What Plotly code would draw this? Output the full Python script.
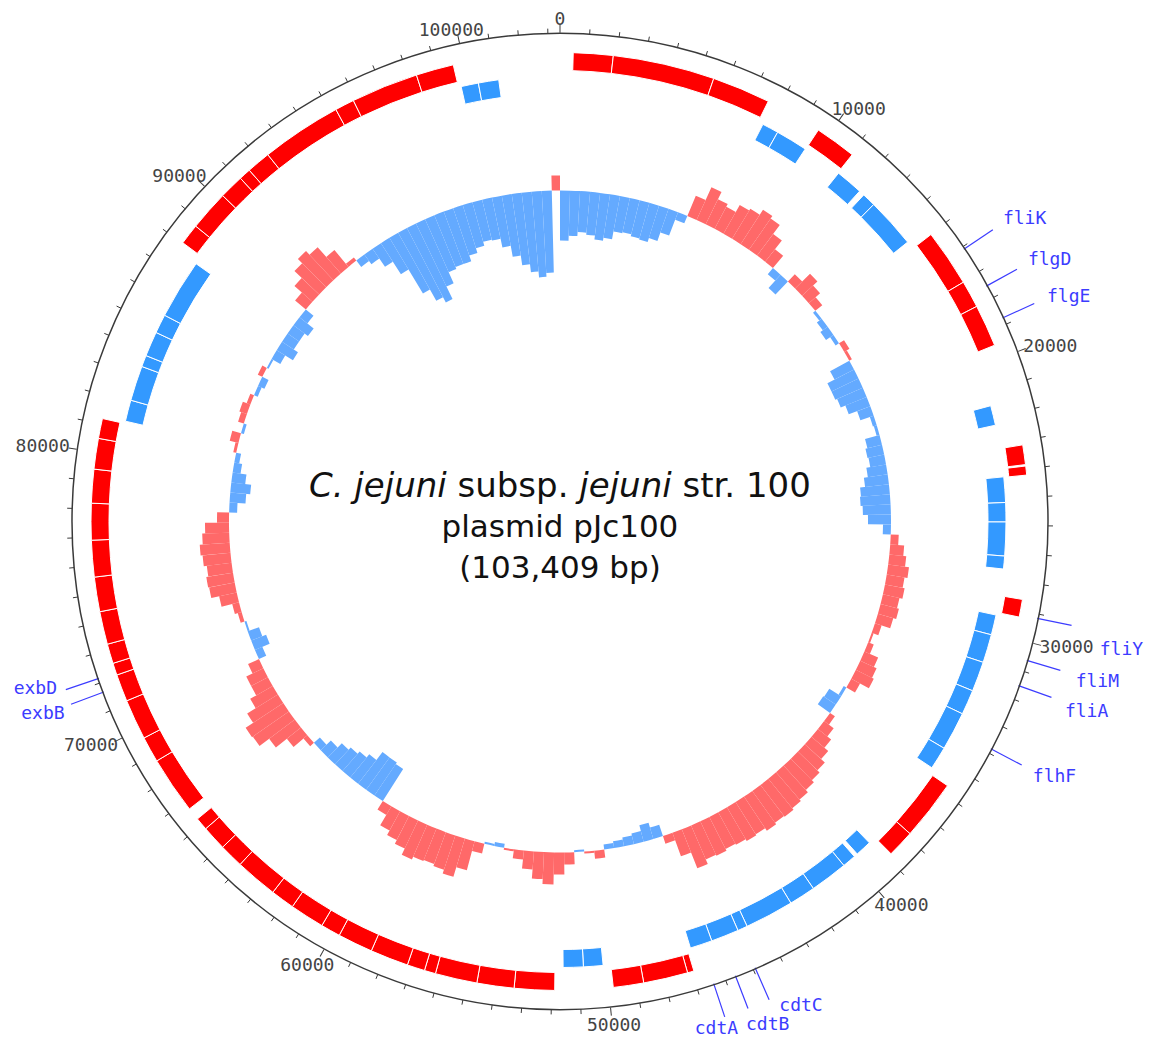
import numpy as np
import plotly.graph_objects as go

# ---------------- data ----------------
GENOME_LEN = 103409

# forward-strand genes (outer red ring), start/end in bp
fwd_start = [465, 1876, 5498, 9600, 15015, 17040, 18010, 23150, 23900, 28600,
             35700, 37840, 46940, 47170, 48750,
             51890, 53320, 54640, 56130, 56530, 57160, 58520, 59770, 60470, 61700,
             62550, 64060, 64920, 65800,
             66700, 68740, 69660, 71100, 72070, 72500, 73200, 74370, 75600, 76900,
             78200, 79400, 80490,
             88030, 88770, 90200, 91070, 91490, 92340, 95210, 95900, 98290]
fwd_end = [1876, 5498, 7574, 11070, 17040, 18010, 19510, 23850, 24220, 29230,
           37840, 38810, 47170, 48750, 49830,
           53320, 54640, 56130, 56530, 57160, 58520, 59770, 60470, 61700, 62550,
           64060, 64920, 65800, 66250,
           68740, 69660, 71100, 72070, 72500, 73200, 74370, 75600, 76900, 78200,
           79400, 80490, 81200,
           88770, 90200, 91070, 91490, 92340, 95210, 95900, 98290, 99630]

# reverse-strand genes (inner blue ring)
rev_start = [7773, 8390, 11100, 12330, 12840, 21530, 24200, 25150, 25870, 27130,
             29330, 30080, 31140, 32260, 33190, 34630, 39090,
             39840, 40350, 41760, 42750, 44580, 44950, 45990, 50110, 50840,
             81290, 82090, 83400, 83830, 84760, 85470, 99730, 100380]
rev_end = [8390, 9583, 12125, 12840, 14710, 22270, 25150, 25870, 27130, 27610,
           30080, 31140, 32260, 33190, 34630, 35480, 39700,
           40350, 41760, 42750, 44580, 44950, 45990, 46820, 50840, 51590,
           82090, 83400, 83830, 84760, 85470, 87700, 100380, 101140]

# GC skew in 500 bp windows (track units; + red, - blue)
skew_window = 500
gc_skew = [
    -50, -45, -41, -43, -47, -44, -36, -35, -37, -38,
    -34, -25, -8, 22, 36, 28, 25, 33, 35, 41,
    38, 27, 16, -8, -18, 10, 21, 15, 9, -3,
    -6, -9, -4, 6, 3, -22, -30, -30, -28, -23,
    -14, -4, -3, -15, -17, -16, -20, -24, -29, -30,
    -28, -23, -8, 8, 14, 17, 21, 18, 20, 17,
    19, 16, 7, 2, 6, 15, 18, 20, 10, -3,
    -14, -15, 6, 12, 17, 22, 27, 30, 33, 36,
    38, 40, 39, 41, 38, 39, 37, 36, 38, 37,
    42, 25, 8, -12, -17, -11, -9, -7, -5, 8,
    2, -2, 12, 22, 32, 27, 18, 9, 2, -4,
    -2, 10, 30, 40, 36, 34, 35, 38, 31, 27,
    22, 10, -38, -40, -40, -30, -26, -23, -20, -14,
    -8, 5, 18, 32, 44, 45, 36, 26, 19, 19,
    12, -8, -16, -12, -2, 4, 7, 18, 26, 27,
    25, 28, 30, 27, 24, 12, -8, -16, -20, -14,
    -8, -5, 3, 9, -3, 6, 8, 4, -4, -7,
    5, -2, -10, -19, -14, -14, -18, -10, 14, 24,
    34, 40, 35, 22, 4, -8, -12, -22, -37, -65,
    -78, -84, -70, -58, -56, -56, -50, -45, -41, -42,
    -51, -62, -72, -80, -86, -82, 15]

major_ticks = list(range(0, 100001, 10000))
major_labels = [str(t) for t in major_ticks]
minor_step = 1000

gene_names = ["fliK", "flgD", "flgE", "fliY", "fliM", "fliA", "flhF",
              "cdtA", "cdtB", "cdtC", "exbD", "exbB"]
gene_pos = [16090, 17550, 18760, 29150, 30610, 31510, 33840,
            46420, 45640, 44920, 72160, 71670]

title_lines = ["<span style='font-size:34px'><i>C. jejuni</i> subsp. <i>jejuni</i> str. 100</span>",
               "plasmid pJc100", "(103,409 bp)"]

# ---------------- layout constants ----------------
# gene label text centres (degrees clockwise from top, radius in px)
label_deg = [57.0, 61.9, 66.2, 102.9, 106.7, 109.9, 117.4, 162.9, 157.6, 153.6, 252.2, 249.5]
label_rad = [554, 555, 556, 576, 561, 560, 557, 532, 545, 542, 551, 552]

R_MAX = 488
FWD_BASE, FWD_H = 451, 18
REV_BASE, REV_H = 428, 18
SKEW_BASE = 331
MAJOR_LEN, MINOR_LEN = 8, 5
TICK_FONT = 18

W, H = 1141, 1031
CX, CY = 552, 513.5  # polar centre in figure pixels (from top)

RED = "#ff0000"
BLUE = "#3399ff"
SKEW_RED = "rgb(255,105,105)"
SKEW_BLUE = "rgb(100,170,255)"
LABEL_BLUE = "#3c3cff"
AXIS_COL = "#3a3a3a"


def deg(bp):
    return np.asarray(bp, dtype=float) * 360.0 / GENOME_LEN


def xy(r, d):
    a = np.radians(np.asarray(d, dtype=float))
    r = np.asarray(r, dtype=float)
    return r * np.sin(a), r * np.cos(a)


fig = go.Figure()

# gene tracks
for starts, ends, base, h, col in [(fwd_start, fwd_end, FWD_BASE, FWD_H, RED),
                                   (rev_start, rev_end, REV_BASE, REV_H, BLUE)]:
    s = np.array(starts, float)
    e = np.array(ends, float)
    fig.add_trace(go.Barpolar(
        theta=deg((s + e) / 2), width=deg(e - s), r=np.full(len(s), h),
        base=np.full(len(s), base),
        marker=dict(color=col, line=dict(color="white", width=1)),
        hoverinfo="skip", showlegend=False))

# GC skew
sk = np.array(gc_skew, float)
bstart = np.arange(len(sk)) * skew_window
bend = np.minimum(bstart + skew_window, GENOME_LEN)
centers = (bstart + bend) / 2
widths = bend - bstart
pos = sk > 0
neg = sk < 0
fig.add_trace(go.Barpolar(
    theta=deg(centers[pos]), width=deg(widths[pos]), r=sk[pos],
    base=np.full(pos.sum(), SKEW_BASE),
    marker=dict(color=SKEW_RED, line=dict(width=0)), hoverinfo="skip", showlegend=False))
fig.add_trace(go.Barpolar(
    theta=deg(centers[neg]), width=deg(widths[neg]), r=-sk[neg],
    base=SKEW_BASE + sk[neg],
    marker=dict(color=SKEW_BLUE, line=dict(width=0)), hoverinfo="skip", showlegend=False))

# ---- overlay cartesian layer (1 unit = 1 px, origin at polar centre) ----
# minor ticks
mx, my = [], []
for t in range(0, GENOME_LEN, minor_step):
    if t % 10000 == 0:
        continue
    x0, y0 = xy(R_MAX, deg(t))
    x1, y1 = xy(R_MAX + MINOR_LEN, deg(t))
    mx += [x0, x1, None]
    my += [y0, y1, None]
fig.add_trace(go.Scatter(x=mx, y=my, mode="lines", line=dict(color=AXIS_COL, width=1),
                         hoverinfo="skip", showlegend=False, cliponaxis=False))

# major tick labels
tx, ty = [], []
for t, lab in zip(major_ticks, major_labels):
    d = float(deg(t))
    a = np.radians(d)
    px, py = xy(R_MAX + MAJOR_LEN, d)
    w = len(lab) * 0.602 * TICK_FONT
    hh = 5 if np.cos(a) > 0 else 12
    tx.append(float(px) + w / 2 * np.sin(a))
    ty.append(float(py) + hh * np.cos(a))
fig.add_trace(go.Scatter(x=tx, y=ty, mode="text", text=major_labels,
                         textposition="middle center",
                         textfont=dict(family="DejaVu Sans Mono", size=TICK_FONT, color="#444444"),
                         hoverinfo="skip", showlegend=False, cliponaxis=False))

# gene label lines
lx, ly = [], []
for p in gene_pos:
    x0, y0 = xy(R_MAX - 1, deg(p))
    x1, y1 = xy(R_MAX + 34, deg(p))
    lx += [x0, x1, None]
    ly += [y0, y1, None]
fig.add_trace(go.Scatter(x=lx, y=ly, mode="lines", line=dict(color=LABEL_BLUE, width=1.2),
                         hoverinfo="skip", showlegend=False, cliponaxis=False))
gx, gy = xy(label_rad, label_deg)
fig.add_trace(go.Scatter(x=gx, y=gy, mode="text", text=gene_names,
                         textposition="middle center",
                         textfont=dict(family="DejaVu Sans Mono", size=18, color=LABEL_BLUE),
                         hoverinfo="skip", showlegend=False, cliponaxis=False))

fig.update_layout(
    width=W, height=H, margin=dict(l=0, r=0, t=0, b=0),
    paper_bgcolor="white", plot_bgcolor="rgba(0,0,0,0)", showlegend=False,
    xaxis=dict(domain=[0, 1], range=[-CX, W - CX], visible=False, fixedrange=True),
    yaxis=dict(domain=[0, 1], range=[-(H - CY), CY], visible=False, fixedrange=True),
    polar=dict(
        domain=dict(x=[(CX - R_MAX) / W, (CX + R_MAX) / W],
                    y=[(H - CY - R_MAX) / H, (H - CY + R_MAX) / H]),
        bgcolor="rgba(0,0,0,0)", barmode="overlay", bargap=0,
        radialaxis=dict(visible=False, range=[0, R_MAX]),
        angularaxis=dict(rotation=90, direction="clockwise", thetaunit="degrees",
                         tickmode="array", tickvals=deg(major_ticks), ticktext=major_labels,
                         showticklabels=False,
                         ticks="outside", ticklen=MAJOR_LEN, tickwidth=1.2, tickcolor=AXIS_COL,
                         showline=True, linecolor=AXIS_COL, linewidth=1.5, showgrid=False),
    ),
    annotations=[dict(text="<br>".join(title_lines), xref="paper", yref="paper",
                      x=CX / W, y=(H - CY - 3) / H, xanchor="center", yanchor="middle",
                      showarrow=False, align="center",
                      font=dict(family="DejaVu Sans", size=31, color="#111111"))],
)

fig.write_html("out.html")
